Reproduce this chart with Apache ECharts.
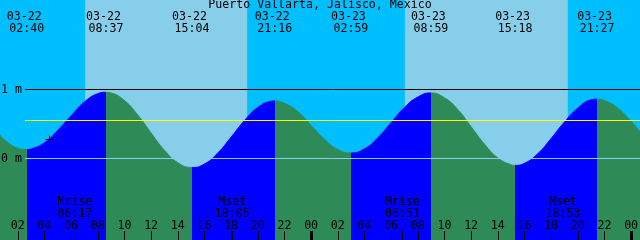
<!DOCTYPE html>
<html><head><meta charset="utf-8">
<script src="https://cdn.jsdelivr.net/npm/echarts@6/dist/echarts.min.js"></script>
<style>html,body{margin:0;padding:0;background:#00BFFF}#c{width:640px;height:240px}</style>
</head><body><div id="c"></div>
<script>
const chartTitle = 'Puerto Vallarta, Jalisco, Mexico';
const viewStart = '03-22 00:40';
const viewHours = 48;

// tide highs / lows (m)
const eventTimes  = ['03-21 21:00','03-22 02:40','03-22 08:37','03-22 15:04','03-22 21:16','03-23 02:59','03-23 08:59','03-23 15:18','03-23 21:27','03-24 03:24'];
const eventLevels = [0.83, 0.13, 0.96, -0.13, 0.835, 0.08, 0.95, -0.10, 0.86, 0.03];
const eventTypes  = ['H','L','H','L','H','L','H','L','H','L'];

// tide level read hourly from 03-22 01:00 (m)
const hourlyFrom = '03-22 01:00';
const hourlyLevels = [0.27, 0.15, 0.14, 0.23, 0.41, 0.62, 0.82, 0.94, 0.95, 0.84, 0.63, 0.37,
  0.12, -0.06, -0.13, -0.08, 0.08, 0.31, 0.55, 0.74, 0.83, 0.80, 0.68, 0.48,
  0.28, 0.13, 0.08, 0.14, 0.30, 0.52, 0.74, 0.89, 0.95, 0.88, 0.71, 0.46,
  0.21, 0.01, -0.09, -0.07, 0.07, 0.29, 0.53, 0.73, 0.85, 0.84, 0.73, 0.54];
const startLevel = 0.34;
const endLevel = 0.39;

// sun
const sunrise = ['03-22 07:03', '03-23 07:02'];
const sunset  = ['03-22 19:12', '03-23 19:15'];

// moon
const moonTimes = ['03-22 06:17', '03-22 18:05', '03-23 06:51', '03-23 18:53'];
const moonNames = ['Mrise', 'Mset', 'Mrise', 'Mset'];

// current time marker
const nowTime = '03-22 04:23';
const nowLevel = 0.275;

// reference levels (m)
const levelLines = [1, 0.55, 0];
const levelColors = ['#000000', '#FFFF00', '#87CEEB'];
const yTickValues = [0, 1];

// bottom hour tick labels, every 2 h from 03-22 02:00
const hourTickLabels = ['02','04','06','08','10','12','14','16','18','20','22','00',
                        '02','04','06','08','10','12','14','16','18','20','22','00'];

function hrs(s) {
  const [d, hm] = s.split(' ');
  const day = +d.split('-')[1] - 22;
  const [h, m] = hm.split(':');
  return day * 24 + (+h) + (+m) / 60;
}

const t0 = hrs(viewStart), t1 = t0 + viewHours;
const ev = eventTimes.map(hrs);
const h0 = hrs(hourlyFrom);

const samples = [[t0, startLevel]];
hourlyLevels.forEach((v, i) => {
  const t = h0 + i;
  if (!ev.some(e => Math.abs(e - t) < 0.15)) samples.push([t, v]);
});
ev.forEach((t, i) => { if (t > t0 && t < t1) samples.push([t, eventLevels[i]]); });
samples.push([t1, endLevel]);
samples.sort((a, b) => a[0] - b[0]);

const pieces = [];
for (let i = 0; i < ev.length - 1; i++) {
  pieces.push({ gte: ev[i], lt: ev[i + 1], color: eventTypes[i] === 'L' ? '#0000FF' : '#2E8B57' });
}

const hourVals = hourTickLabels.map((_, i) => hrs('03-22 02:00') + 2 * i);
const midnightVals = hourVals.filter((v, i) => hourTickLabels[i] === '00');
const moonVals = moonTimes.map(hrs);
const visIdx = ev.map((t, i) => i).filter(i => ev[i] > t0 && ev[i] < t1);
const topVals = visIdx.map(i => ev[i]);

function lookup(vals, v) {
  let best = 0;
  vals.forEach((x, i) => { if (Math.abs(x - v) < Math.abs(vals[best] - v)) best = i; });
  return best;
}

const yMin = -1.1812, yMax = 2.2971;
const fontBase = { fontFamily: 'DejaVu Sans Mono', fontSize: 11.6, color: '#000', lineHeight: 12 };
const font = Object.assign({}, fontBase);
const noLine = { show: false, onZero: false };

const chart = echarts.init(document.getElementById('c'), null, { renderer: 'canvas' });
chart.setOption({
  animation: false,
  backgroundColor: '#00BFFF',
  title: {
    text: chartTitle, left: 'center', top: -1, padding: 0,
    textStyle: Object.assign({ fontWeight: 'normal' }, font)
  },
  grid: { left: 0, right: 0, top: 0, bottom: 0, containLabel: false, outerBoundsMode: 'none' },
  xAxis: [
    {
      type: 'value', min: t0, max: t1, position: 'bottom', z: 10,
      axisLine: noLine, splitLine: { show: false },
      axisTick: { show: true, inside: true, length: 9, customValues: hourVals, lineStyle: { color: '#000', width: 1 } },
      axisLabel: Object.assign({ show: true, inside: true, margin: 8.5, customValues: hourVals,
        formatter: v => hourTickLabels[lookup(hourVals, v)] }, font)
    },
    {
      type: 'value', min: t0, max: t1, position: 'bottom', z: 11,
      axisLine: noLine, splitLine: { show: false },
      axisTick: { show: true, inside: true, length: 9, customValues: midnightVals, lineStyle: { color: '#000', width: 3 } },
      axisLabel: { show: false }
    },
    {
      type: 'value', min: t0, max: t1, position: 'bottom', z: 11,
      axisLine: noLine, splitLine: { show: false },
      axisTick: { show: true, inside: true, length: 9, customValues: moonVals, lineStyle: { color: '#000', width: 1 } },
      axisLabel: Object.assign({ show: true, inside: true, margin: 20.5, customValues: moonVals,
        formatter: v => { const i = lookup(moonVals, v); return moonNames[i] + '\n' + moonTimes[i].split(' ')[1]; } }, font)
    },
    {
      type: 'value', min: t0, max: t1, position: 'top', z: 10,
      axisLine: noLine, splitLine: { show: false }, axisTick: { show: false },
      axisLabel: Object.assign({ show: true, inside: true, margin: 11, customValues: topVals,
        formatter: v => { const i = visIdx[lookup(topVals, v)]; const p = eventTimes[i].split(' '); return '{d|' + p[0] + '}\n{t|' + p[1] + '}'; },
        rich: {
          d: Object.assign({ padding: [0, 5, 0, 0] }, fontBase),
          t: Object.assign({}, fontBase)
        } }, font)
    }
  ],
  yAxis: {
    type: 'value', min: yMin, max: yMax, z: 10,
    axisLine: noLine, splitLine: { show: false }, axisTick: { show: false },
    axisLabel: Object.assign({ show: true, inside: true, margin: 1, customValues: yTickValues,
      formatter: v => v + ' m' }, font)
  },
  visualMap: {
    type: 'piecewise', show: false, dimension: 0, seriesIndex: 1, pieces: pieces
  },
  series: [
    {
      type: 'custom', z: 1, silent: true,
      data: sunrise.map((s, i) => [hrs(s), hrs(sunset[i])]),
      encode: { x: [0, 1] },
      renderItem: (params, api) => {
        const cs = params.coordSys;
        const a = api.coord([api.value(0), yMax]);
        const b = api.coord([api.value(1), yMax]);
        return { type: 'rect', shape: { x: a[0], y: cs.y, width: b[0] - a[0], height: cs.height }, style: { fill: '#87CEEB' } };
      }
    },
    {
      type: 'line', z: 2, silent: true, smooth: true, symbol: 'none',
      data: samples,
      lineStyle: { width: 1 },
      areaStyle: { origin: 'start', opacity: 1 },
      markLine: {
        silent: true, symbol: 'none', animation: false,
        label: { show: false },
        lineStyle: { type: 'solid', width: 1 },
        data: levelLines.map((v, i) => [
          { x: 25, yAxis: v, lineStyle: { color: levelColors[i], type: 'solid', width: 1 } },
          { x: '100%', yAxis: v, lineStyle: { color: levelColors[i], type: 'solid', width: 1 } }
        ])
      }
    },
    {
      type: 'custom', z: 6, silent: true,
      data: [[hrs(nowTime), nowLevel]],
      renderItem: (params, api) => {
        const p = api.coord([api.value(0), api.value(1)]);
        const cx = Math.floor(p[0]) + 0.5, cy = Math.floor(p[1]) + 0.5;
        return {
          type: 'group',
          children: [
            { type: 'line', shape: { x1: cx - 4, y1: cy, x2: cx + 4, y2: cy }, style: { stroke: '#000', lineWidth: 1 } },
            { type: 'line', shape: { x1: cx, y1: cy - 4, x2: cx, y2: cy + 4 }, style: { stroke: '#000', lineWidth: 1 } }
          ]
        };
      }
    }
  ]
});
</script></body></html>
